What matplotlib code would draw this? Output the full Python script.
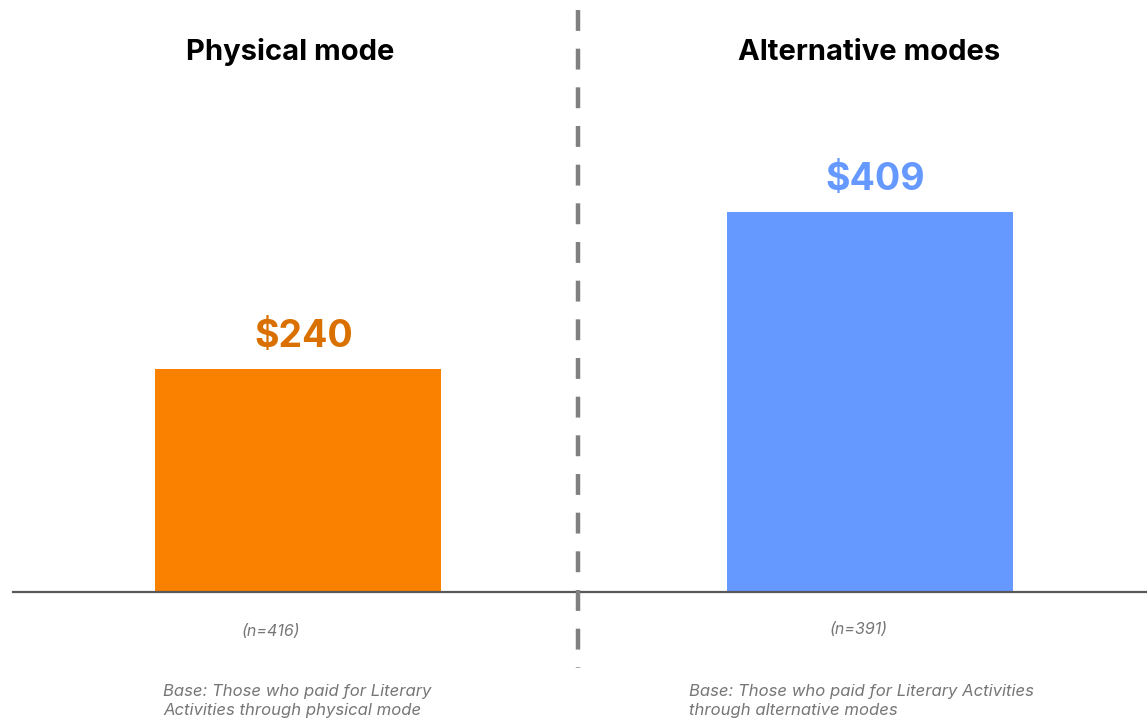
import matplotlib.pyplot as plt
from matplotlib.lines import Line2D

# spend per person by mode
modes = ['Physical mode', 'Alternative modes']
spend = [240, 409]
sample_sizes = [416, 391]
base_notes = ['Base: Those who paid for Literary\nActivities through physical mode',
              'Base: Those who paid for Literary Activities\nthrough alternative modes']

bar_colors = ['#FA8000', '#6699FF']
label_colors = ['#D97000', '#6699FF']

plt.rcParams['font.family'] = ['Inter', 'DejaVu Sans']

W, H = 1147, 719
fig = plt.figure(figsize=(W / 100, H / 100), dpi=100)

def fx(px):
    return px / W

def fy(py):
    return 1 - py / H

ax = fig.add_axes([fx(13), fy(592), fx(1134), 592 / H])
ax.bar(range(len(modes)), spend, width=0.5, color=bar_colors)
ax.set_xlim(-0.498, 1.4845)
ax.set_ylim(0, 637)

for i, v in enumerate(spend):
    ax.annotate(f'${v}', (i, v), xytext=(4, 10), textcoords='offset points',
                ha='center', va='bottom', fontsize=27, fontweight='bold',
                color=label_colors[i])

for s in ['top', 'right', 'left']:
    ax.spines[s].set_visible(False)
ax.spines['bottom'].set_color('#595959')
ax.spines['bottom'].set_linewidth(1.6)
ax.set_xticks([])
ax.set_yticks([])

# dashed divider between the two groups
fig.add_artist(Line2D([fx(577.5), fx(577.5)], [fy(10), fy(668)], color='#808080',
                      linewidth=3.2, linestyle=(0, (4.7, 4.0))))

# group headings
fig.text(fx(290), fy(52), modes[0], ha='center', va='center', fontsize=21,
         fontweight='bold', color='black')
fig.text(fx(869), fy(52), modes[1], ha='center', va='center', fontsize=21,
         fontweight='bold', color='black')

# sample sizes
fig.text(fx(271), fy(631), f'(n={sample_sizes[0]})', ha='center', va='center',
         fontsize=11.5, style='italic', color='#767676')
fig.text(fx(859), fy(629), f'(n={sample_sizes[1]})', ha='center', va='center',
         fontsize=11.5, style='italic', color='#767676')

# base notes
fig.text(fx(163), fy(701), base_notes[0], ha='left', va='center', fontsize=12,
         style='italic', color='#767676', linespacing=1.3)
fig.text(fx(689), fy(701), base_notes[1], ha='left', va='center', fontsize=12,
         style='italic', color='#767676', linespacing=1.3)

fig.savefig('out.png', dpi=100)
